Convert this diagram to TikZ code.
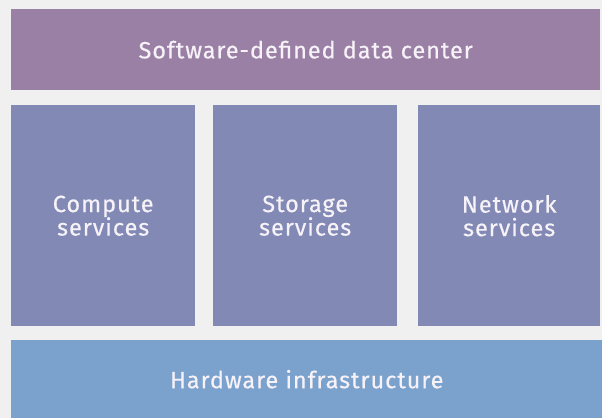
\documentclass[tikz,border=0pt]{standalone}
\usepackage{fontspec}
\setmainfont{Fira Sans}[LetterSpace=4, FakeBold=0.4]
\definecolor{bgc}{HTML}{F0F0F0}
\definecolor{topc}{HTML}{9B80A6}
\definecolor{midc}{HTML}{8189B4}
\definecolor{hwc}{HTML}{7BA1CD}
\definecolor{txt}{HTML}{F6F2F8}
\tikzset{
  layer/.style={fill=#1, draw=none, inner sep=0pt, text=txt, align=center,
    font=\fontsize{23.5}{23.5}\selectfont},
}
\begin{document}
\begin{tikzpicture}[x=1pt,y=-1pt]
\fill[bgc] (0,0) rectangle (602,418);
\useasboundingbox (0,0) rectangle (602,418);
\node[layer=topc, minimum width=589pt, minimum height=81pt, anchor=north west] (sddc) at (11,9) {Software-defined data center};
\node[layer=midc, minimum width=184pt, minimum height=221pt, anchor=north west] (comp) at (11,105) {Compute\\services};
\node[layer=midc, minimum width=184pt, minimum height=221pt, anchor=north west] (stor) at (213,105) {Storage\\services};
\node[layer=midc, minimum width=182pt, minimum height=221pt, anchor=north west] (net) at (418,105) {Network\\services};
\node[layer=hwc, minimum width=591pt, minimum height=78pt, anchor=north west] (hw) at (11,340) {Hardware infrastructure};
\end{tikzpicture}
\end{document}
